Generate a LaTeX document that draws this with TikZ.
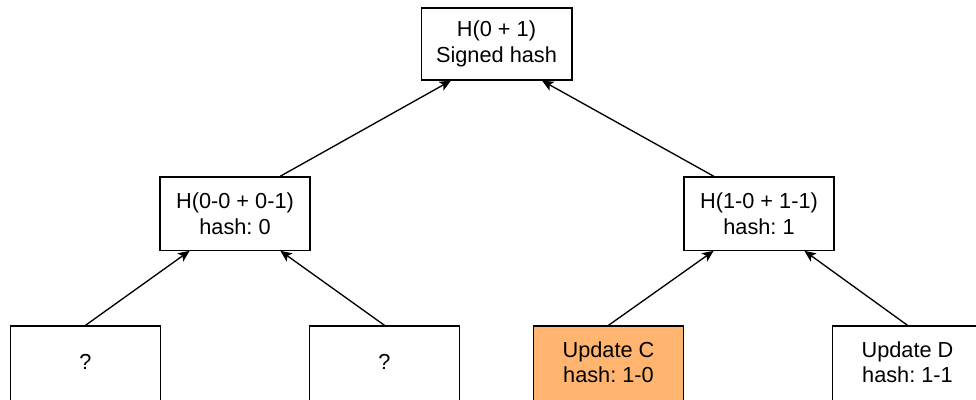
\documentclass[tikz,border=0pt]{standalone}
\usepackage{fontspec}
\setmainfont{Liberation Sans}
\usetikzlibrary{arrows.meta,calc}
\definecolor{updfill}{HTML}{FFB570}
\frenchspacing
\begin{document}
\begin{tikzpicture}[x=0.75pt,y=-0.75pt,
  hashbox/.style={draw=black,line width=1pt,fill=white,align=center,
    minimum width=112.5pt,minimum height=55pt,inner sep=0pt,
    font=\fontsize{16.3}{19.5}\selectfont},
  leafbox/.style={hashbox,minimum height=57pt},
  link/.style={draw=black,line width=1pt,
    -{Stealth[length=8.5pt,width=7.5pt,inset=2pt]}}]
\useasboundingbox (0,0) rectangle (976,400);
\clip (0,0) rectangle (976,400);

% root
\node[hashbox,minimum width=113pt,minimum height=54pt] (root) at (496.5,44) {H(0 + 1)\\Signed hash};

% middle level
\node[hashbox] (mL) at (235,213.5) {H(0-0 + 0-1)\\hash: 0};
\node[hashbox] (mR) at (759,213.5) {H(1-0 + 1-1)\\hash: 1};

% leaves
\node[leafbox] (l1) at (85.5,364) {\raisebox{3pt}{?}};
\node[leafbox] (l2) at (384.5,364) {\raisebox{3pt}{?}};
\node[leafbox,fill=updfill] (l3) at (608.5,364) {\raisebox{3pt}{\shortstack{Update C\\hash: 1-0}}};
\node[leafbox] (l4) at (907.5,364) {\raisebox{3pt}{\shortstack{Update D\\hash: 1-1}}};

% connectors
\draw[link] (l1.north) -- ($(mL.south west)!0.2!(mL.south east)$);
\draw[link] (l2.north) -- ($(mL.south west)!0.8!(mL.south east)$);
\draw[link] (l3.north) -- ($(mR.south west)!0.2!(mR.south east)$);
\draw[link] (l4.north) -- ($(mR.south west)!0.8!(mR.south east)$);
\draw[link] ($(mL.north west)!0.8!(mL.north east)$) -- ($(root.south west)!0.2!(root.south east)$);
\draw[link] ($(mR.north west)!0.2!(mR.north east)$) -- ($(root.south west)!0.8!(root.south east)$);
\end{tikzpicture}
\end{document}
